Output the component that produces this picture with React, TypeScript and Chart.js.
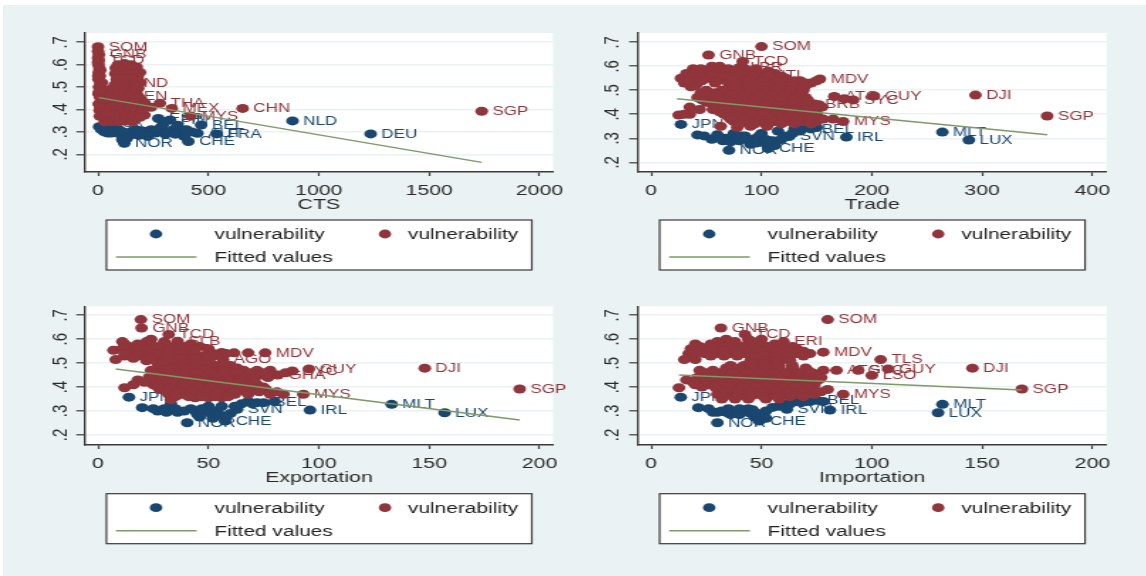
import React, { useEffect, useRef } from "react";
import { Chart, registerables } from "chart.js";

Chart.register(...registerables);

type Pt = [number, number, string?];

const seriesNames = ["vulnerability", "vulnerability", "Fitted values"];
const axisTitles = ["CTS", "Trade", "Exportation", "Importation"];
const yTicks = [0.2, 0.3, 0.4, 0.5, 0.6, 0.7];
const ctsTicks = [0, 500, 1000, 1500, 2000];
const tradeTicks = [0, 100, 200, 300, 400];
const exportTicks = [0, 50, 100, 150, 200];
const importTicks = [0, 50, 100, 150, 200];

const ctsBlue: Pt[] = [[5,.323,"USA"],[28,.3],[45,.295],[70,.315],[85,.3,"POL"],[105,.285],[119,.249,"NOR"],[130,.27],[150,.3],[170,.31],[185,.285],[205,.3],[225,.28],[240,.31],[260,.295],[273,.36,"ESP"],[285,.32],[305,.29],[326,.353,"FIN"],[340,.31],[360,.33],[375,.3],[390,.28],[409,.257,"CHE"],[425,.3],[450,.294,"AUT"],[467,.331,"BEL"],[538,.291,"FRA"],[881,.349,"NLD"],[1235,.291,"DEU"],[15,.31],[35,.315],[60,.295],[95,.31],[115,.3],[140,.285],[160,.29],[195,.305],[215,.29],[250,.3],[270,.31],[295,.335],[315,.3],[350,.29],[400,.31],[300,.345],[110,.265],[130,.29]];
const ctsRed: Pt[] = [[0,.68,"SOM"],[4,.645,"GNB"],[3,.62,"TCD"],[2,.6],[6,.585],[3,.565],[8,.55],[2,.535],[10,.515],[4,.5],[12,.485],[2,.47],[9,.455],[14,.44],[3,.425],[20,.41],[7,.395],[16,.38],[26,.365],[38,.35],[22,.42],[30,.46],[18,.52],[90,.6],[120,.605],[150,.6],[175,.59],[80,.585],[105,.58],[135,.585],[160,.575],[190,.565],[78,.56],[100,.555],[125,.56],[150,.55],[180,.545],[85,.535],[110,.53],[140,.535],[165,.525],[192,.52],[76,.51],[98,.505],[128,.51],[155,.5],[182,.495],[60,.49],[88,.48],[115,.485],[145,.475],[175,.47],[50,.465],[75,.455],[105,.46],[135,.45],[165,.445],[195,.44],[45,.43],[70,.425],[95,.43],[125,.42],[155,.415],[185,.41],[40,.4],[65,.395],[90,.4],[120,.39],[150,.385],[180,.38],[210,.375],[55,.37],[85,.365],[110,.36],[140,.355],[170,.36],[60,.345],[137,.517,"IND"],[108,.46,"BEN"],[210,.43],[240,.41],[280,.428,"THA"],[334,.405,"MEX"],[420,.371,"MYS"],[655,.405,"CHN"],[1738,.392,"SGP"]];
const ctsRedMore: Pt[] = [[0,.66],[0,.63],[0,.61],[10,.575],[1,.55],[15,.5],[5,.48],[25,.44],[10,.41],[30,.39],[45,.375],[30,.345],[8,.37],[70,.35],[95,.345],[125,.35],[155,.345],[100,.59],[130,.595],[165,.585],[88,.57],[115,.57],[140,.565],[170,.56],[95,.54],[125,.54],[155,.535],[178,.53],[90,.515],[115,.515],[140,.505],[170,.505],[70,.495],[100,.49],[130,.49],[160,.485],[60,.47],[90,.465],[120,.47],[150,.46],[185,.455],[55,.445],[85,.44],[115,.44],[145,.43],[175,.43],[205,.415],[55,.41],[80,.41],[110,.41],[140,.4],[170,.395],[200,.39],[45,.385],[75,.38],[100,.38],[130,.375],[160,.37],[190,.365]];
const ctsFit: Pt[] = [[3,.453],[1738,.164]];

const tradeBlue: Pt[] = [[27,.358,"JPN"],[42,.314],[55,.296],[60,.315],[68,.3],[70.5,.25,"NOR"],[75,.32],[80,.29],[85,.31],[90,.275],[95,.3],[95,.28],[100,.32],[105,.275],[106,.257,"CHE"],[110,.29],[115,.33],[120,.31],[125,.307,"SVN"],[130,.34],[135,.33],[140,.345],[145,.34,"BEL"],[150,.345],[177,.305,"IRL"],[264,.326,"MLT"],[288,.293,"LUX"],[65,.29],[72,.285],[82,.31],[88,.295],[98,.31],[104,.295],[112,.27],[118,.295],[128,.32],[62,.305],[48,.31],[78,.305]];
const tradeRed: Pt[] = [[100,.682,"SOM"],[52,.647,"GNB"],[83,.62,"TCD"],[55,.6],[62,.6],[80,.595,"LBR"],[38,.59],[45,.59],[60,.59],[70,.59],[85,.59],[95,.59],[32,.57],[48,.57],[58,.57],[72,.57],[88,.57],[101,.565,"HTI"],[112,.57],[27,.55],[40,.55],[52,.55],[66,.55],[80,.55],[94,.55],[108,.55],[122,.55],[135,.54],[145,.53],[153,.547,"MDV"],[30,.53],[42,.53],[58,.53],[70,.53],[84,.53],[98,.53],[112,.53],[126,.53],[140,.53],[36,.515],[70,.51],[85,.51],[98,.51],[110,.51],[122,.51],[134,.51],[45,.49],[58,.49],[72,.49],[84,.49],[96,.49],[108,.49],[120,.49],[132,.49],[42,.47],[52,.47],[66,.47],[78,.47],[92,.47],[104,.47],[116,.47],[128,.47],[140,.47],[50,.45],[62,.45],[74,.45],[86,.45],[98,.45],[110,.45],[122,.45],[134,.45],[148,.443,"BRB"],[35,.43],[60,.43],[72,.43],[84,.43],[96,.43],[108,.43],[120,.43],[132,.43],[144,.43],[155,.43],[62,.41],[74,.41],[86,.41],[98,.41],[110,.41],[122,.41],[134,.41],[146,.41],[25,.397],[35,.4],[70,.39],[82,.39],[94,.39],[106,.39],[118,.39],[130,.39],[142,.39],[75,.37],[88,.37],[100,.37],[112,.37],[125,.37],[138,.37],[150,.37],[174,.37,"MYS"],[63,.35],[78,.345],[90,.35],[105,.35],[166,.474,"ATG"],[183,.46,"SYC"],[175,.465],[202,.476,"GUY"],[294,.48,"DJI"],[359,.393,"SGP"]];
const tradeRedMore: Pt[] = [[42,.58],[52,.58],[65,.58],[78,.58],[94,.58],[106,.58],[36,.56],[46,.56],[55,.56],[66,.56],[78,.56],[92,.56],[106,.56],[118,.56],[34,.54],[46,.54],[60,.54],[74,.54],[88,.54],[102,.54],[116,.54],[130,.54],[150,.54],[40,.52],[76,.52],[90,.52],[104,.52],[116,.52],[128,.52],[140,.52],[50,.5],[64,.5],[78,.5],[90,.5],[102,.5],[114,.5],[126,.5],[138,.5],[48,.48],[60,.48],[72,.48],[86,.48],[98,.48],[110,.48],[122,.48],[134,.48],[46,.46],[58,.46],[70,.46],[82,.46],[94,.46],[106,.46],[118,.46],[130,.46],[142,.46],[56,.44],[68,.44],[80,.44],[92,.44],[104,.44],[116,.44],[128,.44],[140,.44],[152,.44],[44,.42],[56,.42],[68,.42],[80,.42],[92,.42],[104,.42],[116,.42],[128,.42],[140,.42],[150,.42],[30,.4],[66,.4],[78,.4],[90,.4],[102,.4],[114,.4],[126,.4],[138,.4],[150,.4],[72,.38],[84,.38],[96,.38],[108,.38],[120,.38],[132,.38],[144,.38],[156,.38],[165,.38],[80,.36],[94,.36],[106,.36],[118,.36],[130,.36],[145,.36]];
const tradeFit: Pt[] = [[23.5,.465],[359,.315]];

const exportBlue: Pt[] = [[14,.358,"JPN"],[20,.314],[27,.3],[30,.31],[33,.33],[36,.295],[40.4,.251,"NOR"],[42,.31],[45,.285],[48,.3],[50,.32],[52,.27],[54,.3],[57.5,.258,"CHE"],[60,.29],[63,.307,"SVN"],[65,.33],[68,.34],[72,.335],[75,.335,"BEL"],[80,.34],[96,.304,"IRL"],[133,.328,"MLT"],[157,.293,"LUX"],[25,.31],[31,.295],[35,.31],[39,.3],[44,.3],[47,.31],[51,.29],[55,.285],[58,.275],[62,.32],[46,.275],[56,.32],[70,.33]];
const exportRed: Pt[] = [[19.4,.682,"SOM"],[19.7,.647,"GNB"],[32,.62,"TCD"],[24,.6],[11,.59],[22,.59],[30,.59],[36,.592,"SLB"],[14,.57],[20,.57],[28,.57],[34,.57],[40,.57],[46,.57],[7,.554],[15,.55],[22,.55],[30,.55],[36,.55],[42,.55],[50,.55],[56,.545],[61.6,.543],[68,.543],[75.7,.543,"MDV"],[12,.53],[20,.53],[28,.53],[34,.53],[40,.53],[46,.53],[52,.53],[8,.515],[56.6,.515,"AGO"],[22,.51],[30,.51],[36,.51],[42,.51],[48,.51],[30,.49],[36,.49],[42,.49],[48,.49],[54,.49],[60,.49],[24,.47],[30,.47],[36,.47],[42,.47],[48,.47],[54,.47],[60,.47],[66,.47],[72,.47],[78,.47],[88,.467,"SYC"],[26,.45],[32,.45],[38,.45],[44,.45],[50,.45],[56,.45],[62,.45],[68,.45],[74,.45],[81.5,.45,"GHA"],[18,.43],[26,.43],[32,.43],[38,.43],[44,.43],[50,.43],[56,.43],[62,.43],[68,.43],[16,.41],[25,.41],[30,.41],[36,.41],[42,.41],[48,.41],[54,.41],[60,.41],[66,.41],[72,.41],[12,.397],[28,.39],[34,.39],[40,.39],[46,.39],[52,.39],[58,.39],[64,.39],[70,.39],[76,.39],[32,.37],[38,.37],[44,.37],[50,.37],[56,.37],[62,.37],[68,.37],[78,.37],[84,.37],[93,.37,"MYS"],[33,.347],[44,.355],[50,.355],[56,.355],[95.5,.476,"GUY"],[148,.479,"DJI"],[191,.392,"SGP"]];
const exportRedMore: Pt[] = [[12,.58],[18,.58],[24,.58],[30,.58],[36,.58],[42,.58],[11,.56],[18,.56],[25,.56],[32,.56],[38,.56],[44,.56],[50,.56],[12,.54],[18,.54],[26,.54],[32,.54],[38,.54],[44,.54],[52,.54],[58,.54],[16,.52],[24,.52],[32,.52],[38,.52],[44,.52],[50,.52],[27,.5],[33,.5],[39,.5],[45,.5],[51,.5],[57,.5],[27,.48],[33,.48],[39,.48],[45,.48],[51,.48],[57,.48],[63,.48],[27,.46],[33,.46],[39,.46],[45,.46],[51,.46],[57,.46],[63,.46],[69,.46],[75,.46],[85,.46],[23,.44],[29,.44],[35,.44],[41,.44],[47,.44],[53,.44],[59,.44],[65,.44],[71,.44],[77,.44],[21,.42],[29,.42],[35,.42],[41,.42],[47,.42],[53,.42],[59,.42],[65,.42],[71,.42],[27,.4],[33,.4],[39,.4],[45,.4],[51,.4],[57,.4],[63,.4],[69,.4],[75,.4],[31,.38],[37,.38],[43,.38],[49,.38],[55,.38],[61,.38],[67,.38],[73,.38],[81,.38],[35,.36],[41,.36],[47,.36],[53,.36],[59,.36]];
const exportFit: Pt[] = [[8,.476],[191,.2625]];

const importBlue: Pt[] = [[13.4,.358,"JPN"],[21.4,.314],[26,.31],[28,.295],[30,.251,"NOR"],[32,.3],[35,.31],[38,.295],[42,.3],[45,.29],[47,.275],[49,.258,"CHE"],[50,.28],[52,.3],[55,.315],[60,.33],[61.5,.307,"SVN"],[66,.34],[72,.34],[75,.345,"BEL"],[78,.34],[81,.304,"IRL"],[132,.328,"MLT"],[130,.293,"LUX"],[30,.295],[34,.295],[36,.285],[40,.285],[44,.31],[48,.29],[52,.27],[46,.305],[40,.31],[58,.32],[63,.33],[68,.335]];
const importRed: Pt[] = [[80,.682,"SOM"],[31.6,.647,"GNB"],[42.5,.62,"TCD"],[34,.6],[44,.6],[50,.6],[20,.58],[27,.58],[32,.58],[38,.58],[44,.58],[50,.58],[56,.58],[60,.59,"ERI"],[18,.56],[24,.56],[30,.56],[36,.56],[42,.56],[48,.56],[54,.56],[60,.56],[66,.56],[17,.54],[24,.54],[30,.54],[36,.54],[42,.54],[48,.54],[54,.54],[60,.54],[66,.54],[72,.54],[78,.546,"MDV"],[15,.515],[20,.515],[48,.515],[54,.515],[60,.515],[36,.49],[42,.49],[48,.49],[54,.49],[58,.49],[64,.49],[22,.47],[28,.47],[34,.47],[40,.47],[46,.47],[52,.47],[58,.47],[64,.47],[71,.47],[78,.47],[84,.47,"ATG"],[26,.45],[32,.45],[38,.45],[44,.45],[50,.45],[56,.45],[62,.45],[68,.45],[74,.45],[16,.43],[22,.43],[28,.43],[34,.43],[40,.43],[46,.43],[52,.43],[58,.43],[64,.43],[70,.43],[76,.43],[20,.41],[26,.41],[32,.41],[38,.41],[44,.41],[50,.41],[56,.41],[62,.41],[68,.41],[74,.41],[12.6,.397],[30,.39],[36,.39],[42,.39],[48,.39],[54,.39],[60,.39],[66,.39],[72,.39],[80,.39],[30,.37],[36,.37],[42,.37],[48,.37],[54,.37],[60,.37],[66,.37],[74,.37],[87,.37,"MYS"],[32,.35],[38,.35],[44,.35],[52,.35],[58,.35],[93.8,.47,"SYC"],[104,.515,"TLS"],[107.4,.476,"GUY"],[100,.449,"LSO"],[145.6,.479,"DJI"],[168,.392,"SGP"]];
const importRedMore: Pt[] = [[30,.59],[38,.59],[46,.59],[22,.57],[28,.57],[35,.57],[41,.57],[47,.57],[53,.57],[59,.57],[64,.57],[20,.55],[27,.55],[33,.55],[39,.55],[45,.55],[51,.55],[57,.55],[63,.55],[69,.55],[19,.53],[27,.53],[33,.53],[39,.53],[45,.53],[51,.53],[57,.53],[63,.53],[69,.53],[45,.51],[51,.51],[57,.51],[63,.51],[45,.5],[51,.5],[57,.5],[34,.48],[40,.48],[46,.48],[52,.48],[58,.48],[64,.48],[70,.48],[25,.46],[31,.46],[37,.46],[43,.46],[49,.46],[55,.46],[61,.46],[67,.46],[73,.46],[21,.44],[29,.44],[35,.44],[41,.44],[47,.44],[53,.44],[59,.44],[65,.44],[71,.44],[77,.44],[19,.42],[25,.42],[31,.42],[37,.42],[43,.42],[49,.42],[55,.42],[61,.42],[67,.42],[73,.42],[23,.4],[29,.4],[35,.4],[41,.4],[47,.4],[53,.4],[59,.4],[65,.4],[71,.4],[33,.38],[39,.38],[45,.38],[51,.38],[57,.38],[63,.38],[69,.38],[77,.38],[33,.36],[39,.36],[45,.36],[51,.36],[57,.36],[63,.36],[69,.36]];
const importFit: Pt[] = [[12.6,.45],[168,.3875]];

const STRETCH = 1.42;
const NAVY = "#1a476f";
const MAROON = "#90353b";
const GREEN = "#7d9a68";
const PANEL_BG = "#eaf2f3";
const AXIS = "#3a3a3a";
const FONT = "'Liberation Sans', Arial, sans-serif";

const panels = [
  { blue: ctsBlue, red: [...ctsRed, ...ctsRedMore], fit: ctsFit, title: axisTitles[0], xTicks: ctsTicks, xMin: -60, xMax: 2061, yMin: 0.121, yMax: 0.7415, left: 0, top: 0, plotLeft: 84.8, plotRight: 553, plotTop: 33, plotBottom: 172, legendLeft: 106.4, legendTop: 220 },
  { blue: tradeBlue, red: [...tradeRed, ...tradeRedMore], fit: tradeFit, title: axisTitles[1], xTicks: tradeTicks, xMin: -12.2, xMax: 412.9, yMin: 0.1596, yMax: 0.7387, left: 573, top: 0, plotLeft: 637.7, plotRight: 1106.6, plotTop: 33, plotBottom: 172, legendLeft: 659.6, legendTop: 220 },
  { blue: exportBlue, red: [...exportRed, ...exportRedMore], fit: exportFit, title: axisTitles[2], xTicks: exportTicks, xMin: -6, xMax: 206.1, yMin: 0.158, yMax: 0.7376, left: 0, top: 288, plotLeft: 84.8, plotRight: 553, plotTop: 306.3, plotBottom: 445, legendLeft: 106.4, legendTop: 493.7 },
  { blue: importBlue, red: [...importRed, ...importRedMore], fit: importFit, title: axisTitles[3], xTicks: importTicks, xMin: -6.1, xMax: 206.4, yMin: 0.158, yMax: 0.7376, left: 573, top: 288, plotLeft: 637.7, plotRight: 1106.6, plotTop: 306.3, plotBottom: 445, legendLeft: 659.6, legendTop: 493.7 },
];

const CANVAS_W = 404;
const CANVAS_H = 288;

const toXY = (rows: Pt[]) => rows.map(([x, y, name]) => ({ x, y, name }));

const plotBackground = {
  id: "plotBackground",
  beforeDraw(chart: any) {
    const { ctx, chartArea: a } = chart;
    ctx.save();
    ctx.fillStyle = "#ffffff";
    ctx.fillRect(a.left, a.top, a.right - a.left, a.bottom - a.top);
    ctx.restore();
  },
};

const pointLabels = {
  id: "pointLabels",
  beforeDatasetDraw(chart: any, args: any) {
    const ds = chart.data.datasets[args.index];
    if (ds.showLine) return;
    const { ctx } = chart;
    const meta = chart.getDatasetMeta(args.index);
    ctx.save();
    ctx.font = `12px ${FONT}`;
    ctx.fillStyle = ds.backgroundColor;
    ctx.textAlign = "left";
    ctx.textBaseline = "middle";
    ds.data.forEach((d: any, i: number) => {
      if (!d.name) return;
      const el = meta.data[i];
      ctx.fillText(d.name, el.x + 7.5, el.y + 0.5);
    });
    ctx.restore();
  },
};

function legendBox(boxLeft: number, boxTop: number) {
  // boxLeft / boxTop are the legend's corner inside this panel's canvas, in real page pixels
  return {
    id: "boxedLegend",
    afterDraw(chart: any) {
      const { ctx } = chart;
      const sets = chart.data.datasets;
      const lx = (v: number) => (boxLeft + v) / STRETCH;
      ctx.save();
      ctx.fillStyle = "#ffffff";
      ctx.strokeStyle = AXIS;
      ctx.lineWidth = 1.2;
      ctx.fillRect(lx(0), boxTop, 425.4 / STRETCH, 50);
      ctx.strokeRect(lx(0), boxTop, 425.4 / STRETCH, 50);
      ctx.font = `14.7px ${FONT}`;
      ctx.textAlign = "left";
      ctx.textBaseline = "middle";
      ctx.fillStyle = sets[0].backgroundColor;
      ctx.beginPath();
      ctx.arc(lx(49.6), boxTop + 14, 4.4, 0, Math.PI * 2);
      ctx.fill();
      ctx.fillStyle = sets[1].backgroundColor;
      ctx.beginPath();
      ctx.arc(lx(278.6), boxTop + 14, 4.4, 0, Math.PI * 2);
      ctx.fill();
      ctx.strokeStyle = sets[2].borderColor;
      ctx.lineWidth = 1.5;
      ctx.beginPath();
      ctx.moveTo(lx(9.5), boxTop + 37);
      ctx.lineTo(lx(90.2), boxTop + 37);
      ctx.stroke();
      ctx.fillStyle = "#222222";
      ctx.fillText(sets[0].label, lx(108.1), boxTop + 15);
      ctx.fillText(sets[1].label, lx(301.6), boxTop + 15);
      ctx.fillText(sets[2].label, lx(108.1), boxTop + 38);
      ctx.restore();
    },
  };
}

function Panel({ p }: { p: (typeof panels)[number] }) {
  const ref = useRef<HTMLCanvasElement | null>(null);
  useEffect(() => {
    const plotL = (p.plotLeft - p.left) / STRETCH;
    const plotR = (p.plotRight - p.left) / STRETCH;
    const plotT = p.plotTop - p.top;
    const plotB = p.plotBottom - p.top;
    const xAxisH = 42;
    const chart = new Chart(ref.current as HTMLCanvasElement, {
      type: "scatter",
      data: {
        datasets: [
          { label: seriesNames[0], data: toXY(p.blue), backgroundColor: NAVY, borderColor: NAVY, pointRadius: 4.5, borderWidth: 0, order: 3 },
          { label: seriesNames[1], data: toXY(p.red), backgroundColor: MAROON, borderColor: MAROON, pointRadius: 4.5, borderWidth: 0, order: 2 },
          { label: seriesNames[2], data: toXY(p.fit), showLine: true, borderColor: GREEN, backgroundColor: GREEN, pointRadius: 0, borderWidth: 1.5, order: 1 },
        ] as any,
      },
      options: {
        animation: false,
        responsive: false,
        events: [],
        layout: {
          padding: { left: 0, top: plotT, right: CANVAS_W - plotR, bottom: CANVAS_H - plotB - xAxisH },
        },
        plugins: { legend: { display: false }, tooltip: { enabled: false }, title: { display: false } },
        scales: {
          x: {
            type: "linear",
            min: p.xMin,
            max: p.xMax,
            afterFit: (s: any) => { s.height = xAxisH; },
            afterBuildTicks: (s: any) => { s.ticks = p.xTicks.map((value) => ({ value })); },
            border: { color: AXIS, width: 1.4 },
            grid: { drawOnChartArea: false, tickColor: AXIS, tickLength: 4, tickWidth: 1.2 },
            ticks: { autoSkip: false, maxRotation: 0, padding: 6, color: "#2b2b2b", font: { family: FONT, size: 15 }, callback: (v: any) => String(v) },
            title: { display: true, text: p.title, color: "#2b2b2b", padding: 0, font: { family: FONT, size: 15 } },
          },
          y: {
            type: "linear",
            min: p.yMin,
            max: p.yMax,
            afterFit: (s: any) => { s.width = plotL; },
            afterBuildTicks: (s: any) => { s.ticks = yTicks.map((value) => ({ value })); },
            border: { color: AXIS, width: 1.4 },
            grid: { color: PANEL_BG, lineWidth: 1.6, tickColor: AXIS, tickLength: 6, tickWidth: 1.2 },
            ticks: {
              autoSkip: false,
              minRotation: 90,
              maxRotation: 90,
              crossAlign: "center",
              padding: 5,
              color: "#2b2b2b",
              font: { family: FONT, size: 15 },
              callback: (v: any) => Number(v).toFixed(1).replace(/^0/, ""),
            },
          },
        },
      } as any,
      plugins: [plotBackground, pointLabels, legendBox(p.legendLeft - p.left, p.legendTop - p.top)] as any,
    });
    return () => chart.destroy();
  }, [p]);
  return (
    <div
      style={{
        position: "absolute",
        left: p.left,
        top: p.top,
        width: CANVAS_W,
        height: CANVAS_H,
        transform: `scaleX(${STRETCH})`,
        transformOrigin: "0 0",
        filter: "blur(0.45px)",
      }}
    >
      <canvas ref={ref} width={CANVAS_W} height={CANVAS_H} style={{ display: "block" }} />
    </div>
  );
}

export default function App() {
  return (
    <div style={{ position: "fixed", left: 0, top: 0, width: 1146, height: 576, background: "#ffffff", overflow: "hidden" }}>
      <div style={{ position: "absolute", left: 3, top: 5, right: 0, bottom: 0, background: PANEL_BG }} />
      {panels.map((p) => (
        <Panel key={p.title} p={p} />
      ))}
    </div>
  );
}
